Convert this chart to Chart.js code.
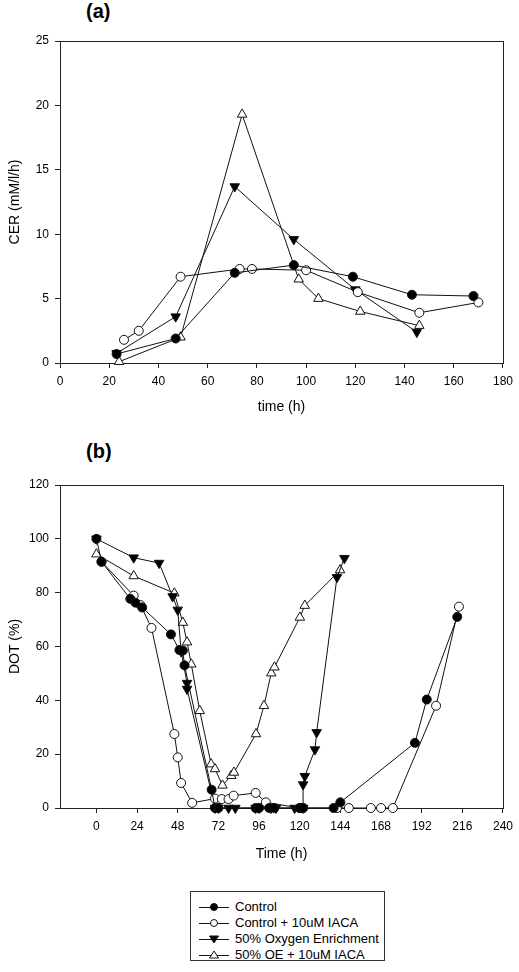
<!DOCTYPE html>
<html>
<head>
<meta charset="utf-8">
<script src="https://cdn.jsdelivr.net/npm/chart.js"></script>
<style>
  body { margin: 0; background: #fff; width: 519px; height: 972px; position: relative; overflow: hidden;
         font-family: 'Liberation Sans', Arial, Helvetica, sans-serif; color: #000; }
  canvas { position: absolute; left: 0; }
  #cerChart { top: 0; }
  #dotChart { top: 430px; }
  .panel { position: absolute; left: 86px; font-weight: bold; font-size: 20px; line-height: 20px; }
  #legend { position: absolute; left: 190px; top: 891px; width: 195px; height: 70px; border: 1px solid #333;
            box-sizing: border-box; padding: 7px 0 0 8px; font-size: 13px; }
  .item { height: 16px; line-height: 16px; display: flex; align-items: center; white-space: nowrap; }
  .item svg { margin-right: 6px; flex: none; }
</style>
</head>
<body>
<div class="panel" style="top:1px">(a)</div>
<div class="panel" style="top:441px">(b)</div>
<canvas id="cerChart" width="519" height="430"></canvas>
<canvas id="dotChart" width="519" height="440"></canvas>
<div id="legend"></div>

<script>
// Panel (a): CER vs time
const cerControlT = [23, 47, 71, 95, 119, 143, 168];
const cerControl = [0.7, 1.9, 7.0, 7.6, 6.7, 5.3, 5.2];
const cerIacaT = [26, 32, 49, 73, 78, 100, 121, 146, 170];
const cerIaca = [1.8, 2.5, 6.7, 7.3, 7.3, 7.2, 5.5, 3.9, 4.7];
const cerOeT = [23, 47, 71, 95, 120, 145];
const cerOe = [0.75, 3.6, 13.7, 9.6, 5.7, 2.4];
const cerOeIacaT = [24, 49, 74, 97, 105, 122, 146];
const cerOeIaca = [0.1, 2.0, 19.3, 6.5, 5.0, 4.0, 2.9];

// Panel (b): DOT vs time
const dotControlT = [0, 3, 20, 23, 27, 44, 49, 51, 52, 68, 70, 72, 94, 96, 102, 105, 120, 122, 140, 144, 188, 195, 213];
const dotControl = [100, 91.5, 77.7, 76.3, 74.5, 64.5, 58.7, 58.5, 53, 6.8, 0, 0, 0, 0, 0, 0, 0, 0, 0, 2.1, 24.2, 40.3, 71];
const dotIacaT = [3, 22, 26, 32.5, 46, 48, 50, 56.5, 70, 74, 78, 81, 94, 100, 120, 122, 142, 149, 162, 168, 175, 200.5, 214];
const dotIaca = [91.5, 78.9, 75.4, 66.9, 27.5, 18.8, 9.3, 1.9, 3.5, 3.3, 3.3, 4.6, 5.6, 2.1, 0, 0, 0, 0, 0, 0, 0, 38, 74.8];
const dotOeT = [0, 22, 37, 45, 48, 50, 53.5, 53.5, 70, 72, 78, 82, 94, 96, 103, 106, 117, 122, 122, 123, 129, 130, 142, 146.4];
const dotOe = [100, 93, 91, 78.6, 73.6, 58.1, 46.4, 44.2, 0, 0, 0, 0, 0, 0, 0, 0, 0, 0, 8.7, 11.8, 21.7, 28.1, 85.7, 92.8];
const dotOeIacaT = [0, 22, 46, 51, 53.5, 56, 61, 67.7, 70, 74.4, 79.6, 81.2, 94.2, 98.9, 103.2, 105.1, 120.1, 123, 143.8];
const dotOeIaca = [94.3, 86.2, 79.8, 68.9, 61.6, 53.4, 36.1, 16.3, 14.5, 8.4, 12, 13.2, 27.5, 38, 50.1, 52.3, 70.8, 75.2, 88.4];

const seriesLabels = ['Control', 'Control + 10uM IACA', '50% Oxygen Enrichment', '50% OE + 10uM IACA'];
const dotTimeTicks = [0, 24, 48, 72, 96, 120, 144, 168, 192, 216, 240];

const FONT = "'Liberation Sans', Arial, Helvetica, sans-serif";
Chart.defaults.font.family = FONT;
Chart.defaults.color = '#000';

const markerStyles = [
  { pointStyle: 'circle', pointBackgroundColor: '#000', pointRadius: 4.5, pointRotation: 0 },
  { pointStyle: 'circle', pointBackgroundColor: '#fff', pointRadius: 4.5, pointRotation: 0 },
  { pointStyle: 'triangle', pointBackgroundColor: '#000', pointRadius: 5.5, pointRotation: 180 },
  { pointStyle: 'triangle', pointBackgroundColor: '#fff', pointRadius: 5.5, pointRotation: 0 }
];

function makeDataset(i, xs, ys) {
  return Object.assign({
    label: seriesLabels[i],
    data: xs.map((x, k) => ({ x: x, y: ys[k] })),
    showLine: true,
    borderColor: '#111',
    borderWidth: 1,
    pointBorderColor: '#111',
    pointBorderWidth: 1,
    pointHoverRadius: 5,
    clip: false
  }, markerStyles[i]);
}

// draws the box around the plot area
const framePlugin = {
  id: 'frame',
  beforeDatasetsDraw(chart) {
    const a = chart.chartArea;
    const ctx = chart.ctx;
    ctx.save();
    ctx.strokeStyle = '#222';
    ctx.lineWidth = 1;
    ctx.strokeRect(Math.round(a.left) + 0.5, Math.round(a.top) + 0.5,
                   Math.round(a.right - a.left), Math.round(a.bottom - a.top));
    ctx.restore();
  }
};

function axis(title, extra) {
  return Object.assign({
    type: 'linear',
    border: { display: true, color: '#222', width: 1 },
    grid: { display: true, drawOnChartArea: false, drawTicks: true, tickLength: 5, color: '#222' },
    ticks: { font: { size: 12 }, padding: 6, color: '#000' },
    title: { display: true, text: title, font: { size: 14 }, padding: { top: 4, bottom: 4 }, color: '#000' }
  }, extra);
}

function baseOptions(padTop, padBottom, xHeight) {
  return {
    responsive: false,
    animation: false,
    layout: { padding: { top: padTop, right: 11, bottom: padBottom, left: 3 } },
    plugins: { legend: { display: false }, tooltip: { enabled: false } },
    scales: {}
  };
}

// (a) CER
const optsA = baseOptions(41, 10);
optsA.scales.x = axis('time (h)', { min: 0, max: 180, ticks: { font: { size: 12 }, padding: 6, stepSize: 20 },
  afterFit: s => { s.height = 57; } });
optsA.scales.y = axis('CER (mM/l/h)', { min: 0, max: 25, ticks: { font: { size: 12 }, padding: 6, stepSize: 5 },
  afterFit: s => { s.width = 57; } });

new Chart(document.getElementById('cerChart'), {
  type: 'scatter',
  data: { datasets: [
    makeDataset(0, cerControlT, cerControl),
    makeDataset(1, cerIacaT, cerIaca),
    makeDataset(2, cerOeT, cerOe),
    makeDataset(3, cerOeIacaT, cerOeIaca)
  ] },
  options: optsA,
  plugins: [framePlugin]
});

// (b) DOT
const optsB = baseOptions(55, 3);
optsB.scales.x = axis('Time (h)', { min: -21.5, max: 240, ticks: { font: { size: 12 }, padding: 6 },
  afterBuildTicks: s => { s.ticks = dotTimeTicks.map(v => ({ value: v })); },
  afterFit: s => { s.height = 59; } });
optsB.scales.y = axis('DOT (%)', { min: 0, max: 120, ticks: { font: { size: 12 }, padding: 6, stepSize: 20 },
  afterFit: s => { s.width = 57; } });

new Chart(document.getElementById('dotChart'), {
  type: 'scatter',
  data: { datasets: [
    makeDataset(0, dotControlT, dotControl),
    makeDataset(1, dotIacaT, dotIaca),
    makeDataset(2, dotOeT, dotOe),
    makeDataset(3, dotOeIacaT, dotOeIaca)
  ] },
  options: optsB,
  plugins: [framePlugin]
});

// legend box under the charts
const legendIcons = [
  '<circle cx="15" cy="8" r="3.5" fill="#000" stroke="#111"/>',
  '<circle cx="15" cy="8" r="3.5" fill="#fff" stroke="#111"/>',
  '<polygon points="10.5,5 19.5,5 15,12" fill="#000" stroke="#111"/>',
  '<polygon points="15,4 19.5,11 10.5,11" fill="#fff" stroke="#111"/>'
];
document.getElementById('legend').innerHTML = seriesLabels.map((lab, i) =>
  '<div class="item"><svg width="30" height="16"><line x1="0" y1="8.5" x2="30" y2="8.5" stroke="#111" stroke-width="1"/>' +
  legendIcons[i] + '</svg><span>' + lab + '</span></div>').join('');
</script>
</body>
</html>
